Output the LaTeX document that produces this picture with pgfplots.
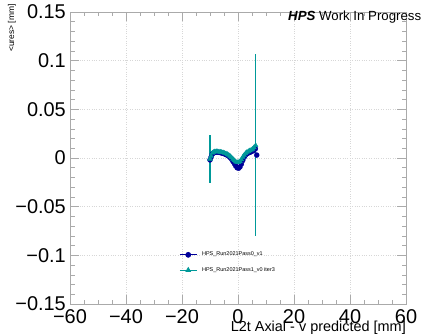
\documentclass[border=0pt]{standalone}
\usepackage{pgfplots}
\pgfplotsset{compat=1.18}
\usepackage{fontspec}
\setmainfont{Liberation Sans}
\definecolor{rblue}{RGB}{0,0,153}
\definecolor{rcyan}{RGB}{0,153,153}
\definecolor{frame}{RGB}{170,170,170}
\definecolor{gridc}{RGB}{215,215,215}
\begin{document}
\begin{tikzpicture}
\useasboundingbox (0,0) rectangle (432bp,335bp);
\begin{axis}[
  at={(70bp,31bp)}, anchor=south west,
  scale only axis, width=336bp, height=292bp,
  xmin=-60, xmax=60, ymin=-0.15, ymax=0.15,
  xtick={-60,-40,-20,0,20,40,60},
  xticklabels={−60,−40,−20,0,20,40,60},
  ytick={-0.15,-0.1,-0.05,0,0.05,0.1,0.15},
  yticklabels={−0.15,−0.1,−0.05,0,0.05,0.1,0.15},
  minor x tick num=3, minor y tick num=4,
  tick align=inside,
  major tick length=9bp, minor tick length=4.5bp,
  axis line style={frame, line width=0.6bp},
  every tick/.style={frame, line width=0.5bp},
  grid=major,
  major grid style={gridc, dotted, line width=0.5bp},
  ticklabel style={font=\fontsize{20}{20}\selectfont},
  xticklabel style={inner sep=0pt, yshift=-5bp},
  yticklabel style={inner sep=0pt, xshift=-4bp},
  legend style={at={(0.325,0.185)}, anchor=north west, draw=none, fill=none,
    font=\fontsize{5.5}{6}\selectfont, row sep=6bp, inner sep=0pt,
    /tikz/every odd column/.append style={column sep=3bp}},
  legend cell align=left,
]
\addplot[only marks, rblue, mark=*, mark size=2.5bp, forget plot,
  error bars/.cd, y dir=both, y explicit,
  error bar style={line width=1bp, draw=rblue}, error mark=none]
  table[x=x, y=y, y error=e] {
  x y e
  -10.0 -0.002 0.010
  -9.6 0.001 0.002
  -9.2 0.004 0.002
  -8.8 0.005 0.002
  -8.3 0.0058 0.002
  -7.8 0.006 0.002
  -7.3 0.006 0.002
  -6.8 0.0058 0.002
  -6.3 0.0055 0.002
  -5.8 0.0052 0.002
  -5.3 0.0047 0.002
  -4.8 0.0042 0.002
  -4.3 0.0036 0.002
  -3.8 0.0028 0.002
  -3.3 0.0018 0.002
  -2.8 0.0005 0.002
  -2.3 -0.0012 0.002
  -1.8 -0.0035 0.002
  -1.3 -0.0058 0.002
  -0.8 -0.0082 0.002
  -0.3 -0.0100 0.002
  0.2 -0.0105 0.002
  0.7 -0.0092 0.002
  1.2 -0.0062 0.002
  1.7 -0.0025 0.002
  2.2 0.0008 0.002
  2.7 0.0030 0.002
  3.2 0.0045 0.002
  3.7 0.0052 0.002
  4.2 0.0058 0.002
  4.7 0.0065 0.002
  5.2 0.0072 0.002
  5.7 0.0080 0.002
  6.2 0.0095 0.021
  6.7 0.0030 0.002
  };
\addplot[only marks, rcyan, mark=triangle*, mark size=2.7bp, forget plot,
  error bars/.cd, y dir=both, y explicit,
  error bar style={line width=1.2bp, draw=rcyan}, error mark=none]
  table[x=x, y=y, y error=e] {
  x y e
  -10.0 -0.001 0.025
  -9.6 0.002 0.003
  -9.2 0.005 0.002
  -8.8 0.006 0.002
  -8.3 0.0065 0.002
  -7.8 0.0068 0.002
  -7.3 0.0066 0.002
  -6.8 0.0064 0.002
  -6.3 0.0062 0.002
  -5.8 0.0060 0.002
  -5.3 0.0055 0.002
  -4.8 0.0050 0.002
  -4.3 0.0045 0.002
  -3.8 0.0038 0.002
  -3.3 0.0030 0.002
  -2.8 0.0018 0.002
  -2.3 0.0005 0.002
  -1.8 -0.0010 0.002
  -1.3 -0.0025 0.002
  -0.8 -0.0038 0.002
  -0.3 -0.0045 0.002
  0.2 -0.0045 0.002
  0.7 -0.0035 0.002
  1.2 -0.0015 0.002
  1.7 0.0010 0.002
  2.2 0.0030 0.002
  2.7 0.0048 0.002
  3.2 0.0060 0.002
  3.7 0.0068 0.002
  4.2 0.0075 0.002
  4.7 0.0083 0.002
  5.2 0.0092 0.002
  5.7 0.0108 0.002
  6.3 0.0130 0.000
  };
% tall error bar of the last cyan bin, drawn on top
\addplot[draw=rcyan, line width=1.7bp, no marks, forget plot] coordinates {(6.3,-0.080) (6.3,0.107)};
\addlegendimage{rblue, mark=*, mark size=2.5bp, line width=0.7bp}
\addlegendentry{HPS\_Run2021Pass0\_v1}
\addlegendimage{rcyan, mark=triangle*, mark size=2.7bp, line width=0.7bp}
\addlegendentry{HPS\_Run2021Pass1\_v0 iter3}
\end{axis}
\node[anchor=base west, inner sep=0pt, font=\fontsize{13.3}{14}\selectfont] at (288bp,314bp) {\textbf{\textit{HPS}} Work In Progress};
\node[anchor=base east, inner sep=0pt, font=\fontsize{14.5}{15}\selectfont] at (406bp,4bp) {L2t Axial - v predicted [mm]};
\node[anchor=east, rotate=90, inner sep=0pt, font=\fontsize{8.5}{9}\selectfont] at (12bp,331bp) {<ures> [mm]};
\end{tikzpicture}
\end{document}
